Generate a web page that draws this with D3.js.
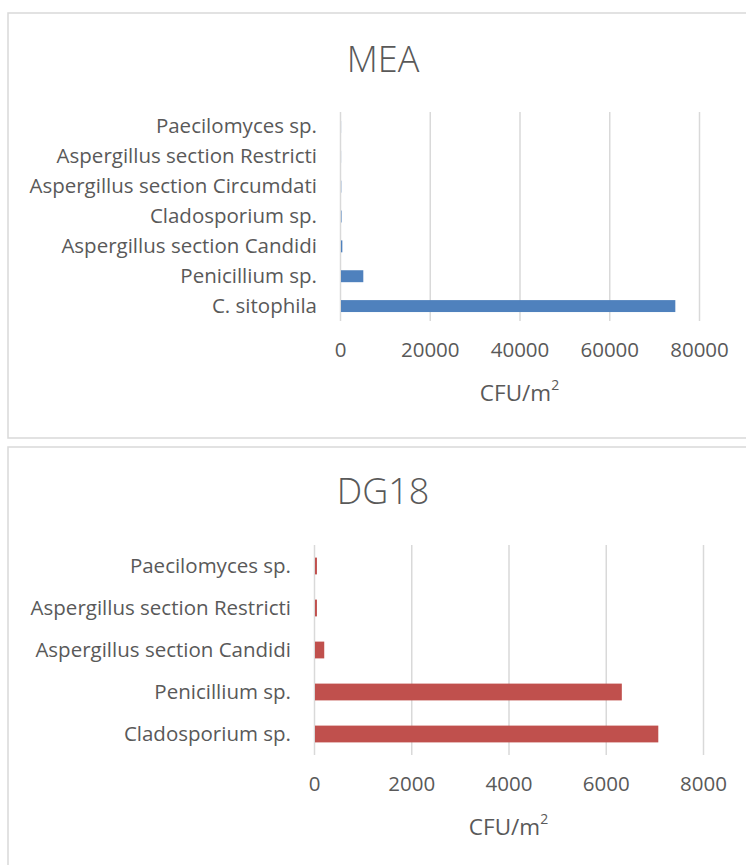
<!DOCTYPE html>
<html>
<head>
<meta charset="utf-8">
<script src="https://cdn.jsdelivr.net/npm/d3@7"></script>
<style>
  body { margin: 0; background: #fff; }
  svg { display: block; }
  text { font-family: "Open Sans", sans-serif; fill: #595959; font-variant-ligatures: none; }
</style>
</head>
<body>
<div id="chart"></div>
<script>
// MEA medium
const meaCategories = [
    "Paecilomyces sp.",
    "Aspergillus section Restricti",
    "Aspergillus section Circumdati",
    "Cladosporium sp.",
    "Aspergillus section Candidi",
    "Penicillium sp.",
    "C. sitophila"
];
const meaValues = [20, 20, 60, 120, 300, 4970, 74500];
const meaTicks = [0, 20000, 40000, 60000, 80000];

// DG18 medium
const dg18Categories = [
    "Paecilomyces sp.",
    "Aspergillus section Restricti",
    "Aspergillus section Candidi",
    "Penicillium sp.",
    "Cladosporium sp."
];
const dg18Values = [40, 40, 190, 6310, 7060];
const dg18Ticks = [0, 2000, 4000, 6000, 8000];

const width = 746, height = 865;
const gridColor = '#d9d9d9';
const fontFamily = '"Open Sans", sans-serif';

const svg = d3.select('#chart')
    .append('svg')
    .attr('width', width)
    .attr('height', height);

function drawPanel(opts) {
    const g = svg.append('g');

    // frame
    g.append('rect')
        .attr('x', opts.frame[0])
        .attr('y', opts.frame[1])
        .attr('width', opts.frame[2])
        .attr('height', opts.frame[3])
        .attr('fill', '#fff')
        .attr('stroke', gridColor)
        .attr('stroke-width', 1.5);

    const x = d3.scaleLinear()
        .domain([opts.ticks[0], opts.ticks[opts.ticks.length - 1]])
        .range([opts.left, opts.right]);

    const y = d3.scaleBand()
        .domain(opts.categories)
        .range([opts.top, opts.bottom])
        .paddingInner(0.6)
        .paddingOuter(0.3);

    // title
    g.append('text')
        .attr('x', 383)
        .attr('y', opts.titleY)
        .attr('text-anchor', 'middle')
        .attr('dominant-baseline', 'central')
        .style('font-size', '36px')
        .style('font-weight', 300)
        .text(opts.title);

    // gridlines
    const grid = g.append('g')
        .attr('transform', `translate(0,${opts.bottom})`)
        .call(d3.axisBottom(x).tickValues(opts.ticks).tickSize(-(opts.bottom - opts.top)).tickFormat(''));
    grid.select('.domain').remove();
    grid.selectAll('line').attr('stroke', gridColor).attr('stroke-width', 1.5);

    // bars
    g.append('g')
        .selectAll('rect')
        .data(opts.values)
        .join('rect')
        .attr('x', x(0) + 1)
        .attr('y', (d, i) => y(opts.categories[i]))
        .attr('width', d => Math.max(0, x(d) - x(0)))
        .attr('height', y.bandwidth())
        .attr('fill', opts.color);

    // category labels
    const yAxis = g.append('g')
        .attr('transform', `translate(${opts.left},0)`)
        .call(d3.axisLeft(y).tickSize(0).tickPadding(23));
    yAxis.select('.domain').remove();
    yAxis.selectAll('text')
        .style('font-family', fontFamily)
        .style('font-size', '20.5px')
        .attr('fill', '#595959');

    // value tick labels
    const xAxis = g.append('g')
        .attr('transform', `translate(0,${opts.bottom})`)
        .call(d3.axisBottom(x).tickValues(opts.ticks).tickSize(0).tickPadding(21).tickFormat(d3.format('d')));
    xAxis.select('.domain').remove();
    xAxis.selectAll('text')
        .style('font-family', fontFamily)
        .style('font-size', '20.5px')
        .attr('fill', '#595959');

    // axis title
    const t = g.append('text')
        .attr('x', (opts.left + opts.right) / 2)
        .attr('y', opts.bottom + 71)
        .attr('text-anchor', 'middle')
        .attr('dominant-baseline', 'central')
        .style('font-size', '22.5px');
    t.append('tspan').text('CFU/m');
    t.append('tspan').attr('dy', -8).style('font-size', '14px').text('2');
}

drawPanel({
    title: 'MEA',
    categories: meaCategories,
    values: meaValues,
    ticks: meaTicks,
    color: '#4f81bd',
    frame: [8, 13, 760, 425],
    titleY: 58,
    left: 340, right: 699,
    top: 112, bottom: 321
});

drawPanel({
    title: 'DG18',
    categories: dg18Categories,
    values: dg18Values,
    ticks: dg18Ticks,
    color: '#c0504d',
    frame: [8, 447, 760, 440],
    titleY: 490,
    left: 314, right: 703,
    top: 545, bottom: 755
});
</script>
</body>
</html>
